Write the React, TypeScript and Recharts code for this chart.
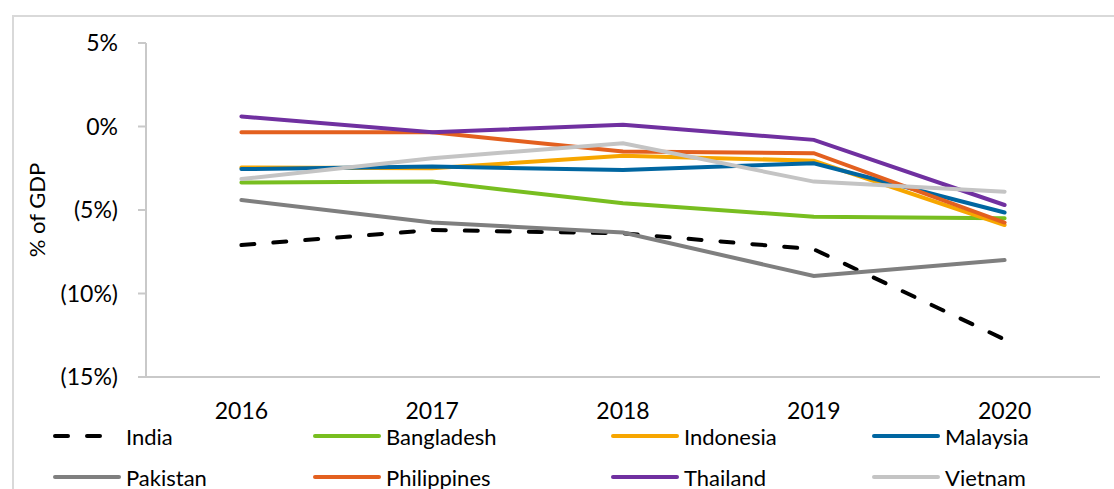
import React from "react";
import { LineChart, Line, XAxis, YAxis, Legend } from "recharts";

// Fiscal balance, % of GDP
const years = ["2016", "2017", "2018", "2019", "2020"];
const india = [-7.1, -6.2, -6.4, -7.35, -12.75];
const bangladesh = [-3.35, -3.3, -4.6, -5.4, -5.5];
const indonesia = [-2.45, -2.5, -1.75, -2.05, -5.9];
const malaysia = [-2.55, -2.4, -2.6, -2.2, -5.15];
const pakistan = [-4.4, -5.75, -6.35, -8.95, -8.0];
const philippines = [-0.35, -0.35, -1.5, -1.6, -5.75];
const thailand = [0.6, -0.35, 0.1, -0.8, -4.7];
const vietnam = [-3.15, -1.9, -1.0, -3.3, -3.9];

const yTicks = [-15, -10, -5, 0, 5];

const series = [
  { name: "India", values: india, color: "#000000", dashed: true },
  { name: "Bangladesh", values: bangladesh, color: "#78BE20" },
  { name: "Indonesia", values: indonesia, color: "#F7A600" },
  { name: "Malaysia", values: malaysia, color: "#0066A1" },
  { name: "Pakistan", values: pakistan, color: "#7F7F7F" },
  { name: "Philippines", values: philippines, color: "#E3601F" },
  { name: "Thailand", values: thailand, color: "#7030A0" },
  { name: "Vietnam", values: vietnam, color: "#C4C4C4" },
];

const rows = years.map((year, i) => {
  const row: Record<string, string | number> = { year };
  series.forEach((s) => {
    row[s.name] = s.values[i];
  });
  return row;
});

// boundaries between the year bands, where the x-axis tick marks sit
const bandEdges = years.map((_, i) => i).concat(years.length);

const FONT = "Lato, 'Open Sans', sans-serif";
const AXIS = "#C9C9C9";
const DASH = "13 19";

const pct = (v: number) => (v < 0 ? `(${-v}%)` : `${v}%`);

function LegendBlock() {
  return (
    <div
      style={{
        display: "grid",
        gridTemplateColumns: "260px 298px 261px 200px",
        rowGap: 19,
        fontFamily: FONT,
        fontSize: 22,
        color: "#000",
      }}
    >
      {series.map((s) => (
        <div key={s.name} style={{ display: "flex", alignItems: "center", height: 22 }}>
          <svg width={68} height={10} style={{ marginRight: 5 }}>
            <line
              x1={2}
              x2={66}
              y1={5}
              y2={5}
              stroke={s.color}
              strokeWidth={4}
              strokeLinecap="round"
              strokeDasharray={s.dashed ? DASH : undefined}
            />
          </svg>
          <span>{s.name}</span>
        </div>
      ))}
    </div>
  );
}

export default function App() {
  return (
    <div
      style={{
        position: "absolute",
        left: 0,
        top: 0,
        width: 1114,
        height: 489,
        overflow: "hidden",
        background: "#fff",
      }}
    >
      <div
        style={{
          position: "absolute",
          left: 12,
          top: 15,
          width: 1120,
          height: 500,
          border: "2px solid #D9D9D9",
        }}
      />
      <div style={{ position: "absolute", left: 0, top: 0 }}>
        <LineChart
          width={1114}
          height={489}
          data={rows}
          margin={{ top: 43, right: 14, bottom: 72, left: 0 }}
        >
          <XAxis
            xAxisId="axis"
            type="number"
            domain={[0, years.length]}
            ticks={bandEdges}
            allowDataOverflow
            tick={false}
            tickSize={8}
            height={10}
            axisLine={{ stroke: AXIS, strokeWidth: 2 }}
            tickLine={{ stroke: AXIS, strokeWidth: 2 }}
          />
          <XAxis
            xAxisId="years"
            dataKey="year"
            scale="band"
            axisLine={false}
            tickLine={false}
            tickSize={0}
            tickMargin={16}
            height={30}
            tick={{ fill: "#000", fontSize: 23, fontFamily: FONT }}
          />
          <YAxis
            width={146}
            domain={[-15, 5]}
            ticks={yTicks}
            tickFormatter={pct}
            tickSize={8}
            tickMargin={20}
            axisLine={{ stroke: AXIS, strokeWidth: 2 }}
            tickLine={{ stroke: AXIS, strokeWidth: 2 }}
            tick={{ fill: "#000", fontSize: 23, fontFamily: FONT }}
            label={{
              value: "% of GDP",
              angle: -90,
              position: "insideLeft",
              dx: 32,
              style: { fill: "#000", fontSize: 22, fontFamily: FONT, textAnchor: "middle" },
            }}
          />
          {series.map((s) => (
            <Line
              key={s.name}
              xAxisId="years"
              dataKey={s.name}
              stroke={s.color}
              strokeWidth={4}
              strokeLinecap="round"
              strokeDasharray={s.dashed ? DASH : undefined}
              dot={false}
              activeDot={false}
              isAnimationActive={false}
            />
          ))}
          <Legend
            verticalAlign="middle"
            content={() => <LegendBlock />}
            wrapperStyle={{ position: "absolute", left: 53, top: 425, width: 1050 }}
          />
        </LineChart>
      </div>
    </div>
  );
}
